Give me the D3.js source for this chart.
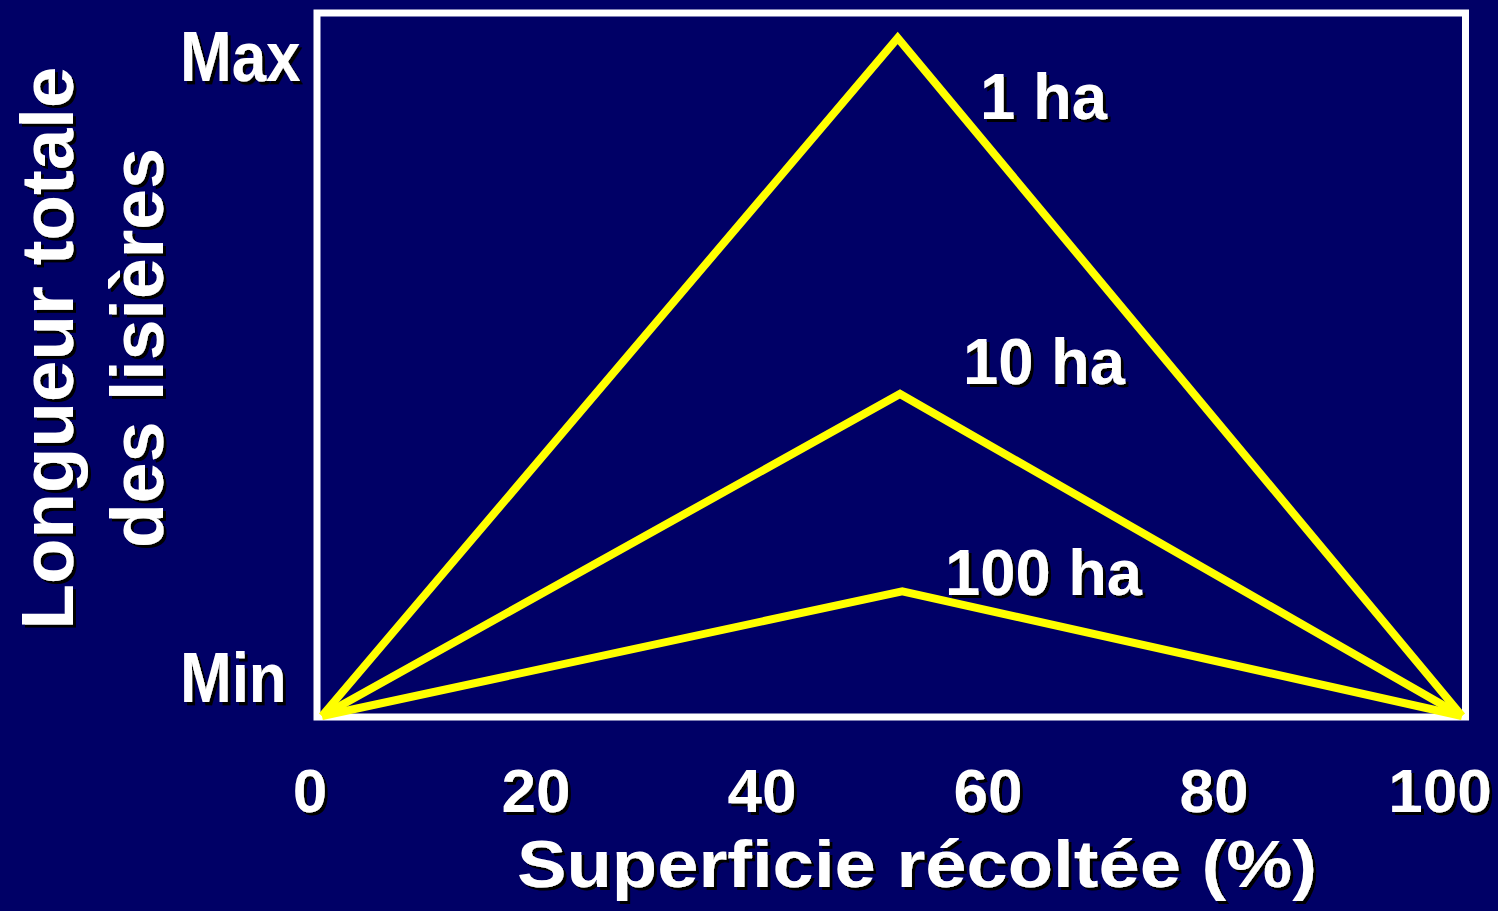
<!DOCTYPE html>
<html>
<head>
<meta charset="utf-8">
<script src="https://cdn.jsdelivr.net/npm/d3@7"></script>
<style>
html,body{margin:0;padding:0;background:#000066;}
svg{display:block;}
text{font-family:"Liberation Sans",Arial,Helvetica,sans-serif;font-weight:bold;fill:#fff;}
</style>
</head>
<body>
<svg id="chart" width="1498" height="911"></svg>
<script>
// Data
const seriesNames = ["1 ha", "10 ha", "100 ha"];
const xValues = [0, 50.6, 100];
const series1ha = [0, 100, 0];
const series10ha = [0, 47.5, 0];
const series100ha = [0, 18.4, 0];
const peakX = [50.5, 50.7, 50.9];
const xTickLabels = [0, 20, 40, 60, 80, 100];
const yTickLabels = ["Min", "Max"];
const xTitle = "Superficie récoltée (%)";
const yTitle = ["Longueur totale", "des lisières"];

const svg = d3.select("#chart");
const W = 1498, H = 911;
const defs = svg.append("defs");
const f = defs.append("filter").attr("id", "shadow")
  .attr("x", "-10%").attr("y", "-10%").attr("width", "130%").attr("height", "130%")
  .attr("filterUnits", "objectBoundingBox");
f.append("feDropShadow").attr("dx", 3).attr("dy", 3).attr("stdDeviation", 0.4)
  .attr("flood-color", "#000").attr("flood-opacity", 1);
const fr = defs.append("filter").attr("id", "shadowRot")
  .attr("x", "-10%").attr("y", "-10%").attr("width", "130%").attr("height", "130%");
// rotated -90: screen (3,3) -> local (-3,3)
fr.append("feDropShadow").attr("dx", -3).attr("dy", 3).attr("stdDeviation", 0.4)
  .attr("flood-color", "#000").attr("flood-opacity", 1);

svg.append("rect").attr("width", W).attr("height", H).attr("fill", "#000066");

const x = d3.scaleLinear().domain([0, 100]).range([322, 1462]);
const xTick = d3.scaleLinear().domain([0, 100]).range([310, 1440]);
const y = d3.scaleLinear().domain([0, 100]).range([716, 38]);

// frame
svg.append("rect")
  .attr("x", 317).attr("y", 13)
  .attr("width", 1148.5).attr("height", 704)
  .attr("fill", "none").attr("stroke", "#fff").attr("stroke-width", 7);

function sText(g, str, attrs, textLen) {
  const t = g.append("text").text(str).attr("filter", "url(#shadow)");
  Object.entries(attrs).forEach(([k, v]) => t.attr(k, v));
  if (textLen) t.attr("textLength", textLen).attr("lengthAdjust", "spacingAndGlyphs");
  return t;
}

// lines
const allSeries = [series1ha, series10ha, series100ha];
const line = d3.line().x(d => x(d[0])).y(d => y(d[1]));
allSeries.forEach((s, i) => {
  const pts = s.map((v, j) => [j === 1 ? peakX[i] : xValues[j], v]);
  svg.append("path").attr("d", line(pts))
    .attr("fill", "none").attr("stroke", "#ffff00")
    .attr("stroke-width", 8).attr("stroke-linejoin", "miter").attr("stroke-miterlimit", 10);
});

// series labels
const labelPos = [
  {x: 980, y: 119, len: 127},
  {x: 963, y: 384, len: 162},
  {x: 945, y: 595, len: 197}
];
seriesNames.forEach((n, i) => {
  sText(svg, n, {x: labelPos[i].x, y: labelPos[i].y, "font-size": 64}, labelPos[i].len);
});

// x tick labels
xTickLabels.forEach(v => {
  sText(svg, String(v), {x: xTick(v), y: 812, "font-size": 62, "text-anchor": "middle"});
});

// y labels Min / Max
const yLab = [{v: 0, by: 702}, {v: 100, by: 81}];
yTickLabels.forEach((s, i) => {
  const g = svg.append("g").attr("transform", `translate(0,${yLab[i].by}) scale(1,1.13)`);
  sText(g, s, {x: 180, y: 0, "font-size": 62});
});

// x title
sText(svg, xTitle, {x: 917, y: 887, "font-size": 66, "text-anchor": "middle"}, 800);

// y title
const yt = [{bx: 73, len: 563}, {bx: 163, len: 400}];
yTitle.forEach((s, i) => {
  svg.append("text").text(s)
    .attr("font-size", 74).attr("text-anchor", "middle")
    .attr("filter", "url(#shadowRot)")
    .attr("transform", `translate(${yt[i].bx},348) rotate(-90)`)
    .attr("textLength", yt[i].len).attr("lengthAdjust", "spacingAndGlyphs");
});
</script>
</body>
</html>
